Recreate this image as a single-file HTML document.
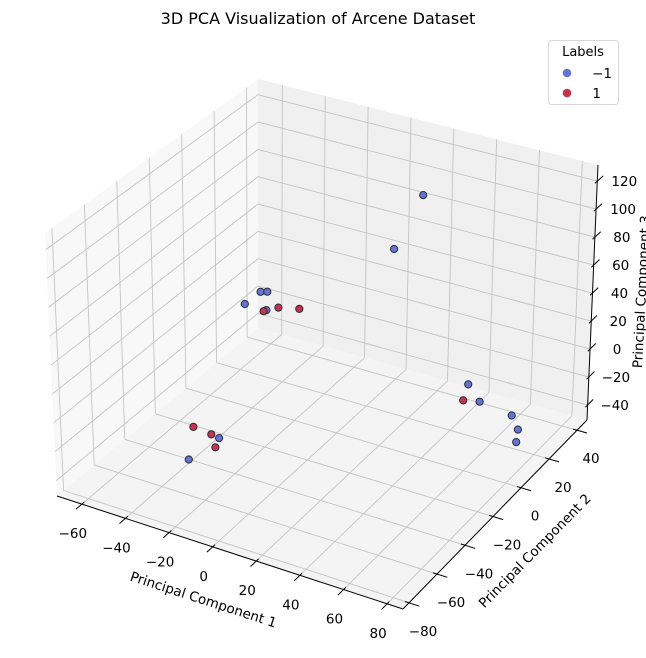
<!DOCTYPE html>
<html><head><meta charset="utf-8">
<style>
html,body{margin:0;padding:0;background:#fff;}
svg{display:block;font-family:"DejaVu Sans","Liberation Sans",sans-serif;}
</style></head>
<body>
<svg id="chart" width="646" height="658" viewBox="0 0 646 658" xmlns="http://www.w3.org/2000/svg">
<rect width="646" height="658" fill="#fff"/>
<text x="318" y="24" font-size="16" text-anchor="middle" fill="#000">3D PCA Visualization of Arcene Dataset</text>
<g id="panes"></g><g id="grid"></g><g id="axes"></g><g id="points"></g>
<text font-size="13.5" text-anchor="middle" transform="translate(202,604) rotate(18)">Principal Component 1</text>
<text font-size="13.5" text-anchor="middle" transform="translate(538,554) rotate(-45.5)">Principal Component 2</text>
<text font-size="13.5" text-anchor="middle" transform="translate(646,292) rotate(-87)">Principal Component 3</text>
<g>
<rect x="548.5" y="40.5" width="70" height="64" rx="3" fill="#fff" fill-opacity="0.8" stroke="#d8d8d8"/>
<text x="583" y="56" font-size="13" text-anchor="middle">Labels</text>
<circle cx="567" cy="73" r="4.3" fill="#6574d0"/>
<text x="612" y="78" font-size="13.5" text-anchor="end">−1</text>
<circle cx="567" cy="93" r="4.3" fill="#c4344f"/>
<text x="601" y="98" font-size="13.5" text-anchor="end">1</text>
</g>
</svg>
<script>
const xs = [25.1, 14.2, -50.0, -47.7, -53.3, -46.1, -47.8, -42.9, -36.7, 40.0, 39.1, 45.6, 60.2, 67.8, 71.8, -40.9, -31.8, -27.6, -25.3, -29.6];
const ys = [20.6, 17.4, 19.7, 20.9, 14.0, 18.1, 18.6, 21.5, 26.6, 32.2, 30.3, 32.2, 33.5, 26.7, 19.6, -37.4, -38.5, -39.3, -45.1, -56.6];
const zs = [110, 70, 10, 10, 5, 0, -2, 0, -3, -30, -40, -40, -45, -45, -45, -30, -30, -30, -30, -30];
const labels = [-1, -1, -1, -1, -1, -1, 1, 1, 1, -1, 1, -1, -1, -1, -1, 1, 1, -1, 1, -1];
const xTicks = [-60, -40, -20, 0, 20, 40, 60, 80];
const yTicks = [-80, -60, -40, -20, 0, 20, 40];
const zTicks = [-40, -20, 0, 20, 40, 60, 80, 100, 120];

const XMIN=-71.4, XMAX=87.3, YMIN=-84.3, YMAX=47.1, ZMIN=-50.7, ZMAX=131.5;
const A=[57,496],B=[403,609],C=[587,420],D=[258,328];
const At=[45,233],Bt=[400,340],Ct=[598,165],Dt=[258,79];
function bil(p00,p10,p11,p01,u,v){
  return [p00[0]*(1-u)*(1-v)+p10[0]*u*(1-v)+p11[0]*u*v+p01[0]*(1-u)*v,
          p00[1]*(1-u)*(1-v)+p10[1]*u*(1-v)+p11[1]*u*v+p01[1]*(1-u)*v];
}
function proj(x,y,z){
  const u=(x-XMIN)/(XMAX-XMIN), v=(y-YMIN)/(YMAX-YMIN), w=(z-ZMIN)/(ZMAX-ZMIN);
  const b=bil(A,B,C,D,u,v), t=bil(At,Bt,Ct,Dt,u,v);
  return [b[0]+(t[0]-b[0])*w, b[1]+(t[1]-b[1])*w];
}
const NS="http://www.w3.org/2000/svg";
function mk(tag,attrs,parent){const e=document.createElementNS(NS,tag);for(const k in attrs)e.setAttribute(k,attrs[k]);parent.appendChild(e);return e;}
function line(p,q,stroke,sw,parent){return mk('line',{x1:p[0],y1:p[1],x2:q[0],y2:q[1],stroke:stroke,'stroke-width':sw},parent);}
const gP=document.getElementById('panes'),gG=document.getElementById('grid'),gA=document.getElementById('axes'),gD=document.getElementById('points');
function poly(pts,fill,name){const e=mk('polygon',{points:pts.map(p=>p.join(',')).join(' '),fill:fill},gP);

}
poly([proj(XMIN,YMIN,ZMIN),proj(XMIN,YMAX,ZMIN),proj(XMIN,YMAX,ZMAX),proj(XMIN,YMIN,ZMAX)],'#f8f8f8','x-pane');
poly([proj(XMIN,YMAX,ZMIN),proj(XMAX,YMAX,ZMIN),proj(XMAX,YMAX,ZMAX),proj(XMIN,YMAX,ZMAX)],'#f0f0f0','y-pane');
poly([proj(XMIN,YMIN,ZMIN),proj(XMAX,YMIN,ZMIN),proj(XMAX,YMAX,ZMIN),proj(XMIN,YMAX,ZMIN)],'#f4f4f4','floor-pane');
const GC='#c4c4c4',GW=0.9;
xTicks.forEach(x=>{
  let e=line(proj(x,YMIN,ZMIN),proj(x,YMAX,ZMIN),GC,GW,gG);
  
  
  e=line(proj(x,YMAX,ZMIN),proj(x,YMAX,ZMAX),GC,GW,gG);
  
  
});
yTicks.forEach(y=>{
  let e=line(proj(XMIN,y,ZMIN),proj(XMAX,y,ZMIN),GC,GW,gG);
  
  
  e=line(proj(XMIN,y,ZMIN),proj(XMIN,y,ZMAX),GC,GW,gG);
  
  
});
zTicks.forEach(z=>{
  let e=line(proj(XMIN,YMIN,z),proj(XMIN,YMAX,z),GC,GW,gG);
  
  
  e=line(proj(XMIN,YMAX,z),proj(XMAX,YMAX,z),GC,GW,gG);
  
  
});
let ax=line(proj(XMIN,YMIN,ZMIN),proj(XMAX,YMIN,ZMIN),'#000',1,gA);


ax=line(proj(XMAX,YMIN,ZMIN),proj(XMAX,YMAX,ZMIN),'#000',1,gA);


ax=line(proj(XMAX,YMAX,ZMIN),proj(XMAX,YMAX,ZMAX),'#000',1,gA);


const yr=YMAX-YMIN,xr=XMAX-XMIN;
function txt(s,x,y,anchor){const t=mk('text',{x:x,y:y,'font-size':13.5,'text-anchor':anchor,fill:'#000'},gA);t.textContent=s;return t;}
function fmt(v){return v<0?'\u2212'+(-v):String(v);}
xTicks.forEach(x=>{
  const e=line(proj(x,YMIN-0.03*yr,ZMIN),proj(x,YMIN+0.012*yr,ZMIN),'#000',1,gA);
  
  
  const p=proj(x,YMIN,ZMIN);
  const t=txt(fmt(x),p[0]-9,p[1]+34,'middle');
  
  
});
yTicks.forEach(y=>{
  const e=line(proj(XMAX+0.03*xr,y,ZMIN),proj(XMAX-0.012*xr,y,ZMIN),'#000',1,gA);
  
  
  const p=proj(XMAX,y,ZMIN);
  const t=txt(fmt(y),p[0]+14,p[1]+33,'middle');
  
  
});
zTicks.forEach(z=>{
  const e=line(proj(XMAX,YMAX-0.012*yr,z),proj(XMAX,YMAX+0.03*yr,z),'#000',1,gA);
  
  
  const p=proj(XMAX,YMAX,z);
  const t=txt(fmt(z),p[0]+27,p[1]+5,'middle');
  
  
});
xs.forEach((x,i)=>{
  const p=proj(x,ys[i],zs[i]);
  const c=mk('circle',{cx:p[0].toFixed(1),cy:p[1].toFixed(1),r:3.6,fill:labels[i]<0?'#6574d0':'#c4344f',stroke:'#2a2a3a','stroke-width':1},gD);
  
  
});
</script>
</body></html>
